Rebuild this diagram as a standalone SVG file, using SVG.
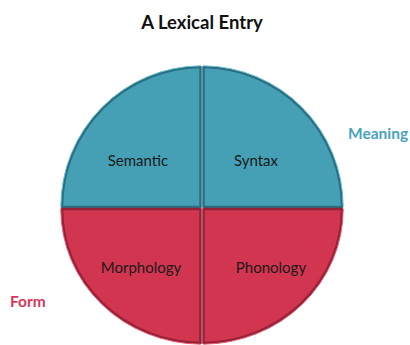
<svg xmlns="http://www.w3.org/2000/svg" width="410" height="345" viewBox="0 0 410 345">
  <style>
    .title{font-family:Lato,"Open Sans",sans-serif;font-weight:bold;font-size:18.5px;fill:#111;text-anchor:middle}
    .lbl{font-family:Lato,"Open Sans",sans-serif;font-size:15px;fill:#1a1a1a;text-anchor:middle}
    .side{font-family:Lato,"Open Sans",sans-serif;font-weight:bold;font-size:15.5px}
    .teal{fill:#45a0b6;stroke:#2a6f80;stroke-width:2.5;stroke-linejoin:round}
    .red{fill:#d2354f;stroke:#952236;stroke-width:2.5;stroke-linejoin:round}
    .tealedge{fill:none;stroke:#6cc0d3;stroke-width:1}
    .rededge{fill:none;stroke:#e85a72;stroke-width:1}
  </style>
  <rect width="410" height="345" fill="#fff"/>
  <text class="title" x="202" y="29">A Lexical Entry</text>
  <g id="semantic">
    <path class="teal" d="M200.5 207 H62 A140 140 0 0 1 200.5 67 Z"/>
    <path class="tealedge" d="M60.8 207 A141.2 141.2 0 0 1 200.5 65.8"/>
    <text class="lbl" x="138" y="166">Semantic</text>
  </g>
  <g id="syntax">
    <path class="teal" d="M203.5 207 V67 A140 140 0 0 1 342 207 Z"/>
    <path class="tealedge" d="M203.5 65.8 A141.2 141.2 0 0 1 343.2 207"/>
    <text class="lbl" x="256" y="166">Syntax</text>
  </g>
  <g id="morphology">
    <path class="red" d="M200.5 209 H62 A140 134 0 0 0 200.5 343 Z"/>
    <path class="rededge" d="M60.8 209 A141.2 135.2 0 0 0 200.5 344.2"/>
    <text class="lbl" x="141" y="273">Morphology</text>
  </g>
  <g id="phonology">
    <path class="red" d="M203.5 209 V343 A140 134 0 0 0 342 209 Z"/>
    <path class="rededge" d="M203.5 344.2 A141.2 135.2 0 0 0 343.2 209"/>
    <text class="lbl" x="271" y="273">Phonology</text>
  </g>
  <g id="meaning">
    <text class="side" x="348" y="139" fill="#4aa3be">Meaning</text>
  </g>
  <g id="form">
    <text class="side" x="10" y="307" fill="#d6385a">Form</text>
  </g>
  <g id="connectors"></g>
</svg>
